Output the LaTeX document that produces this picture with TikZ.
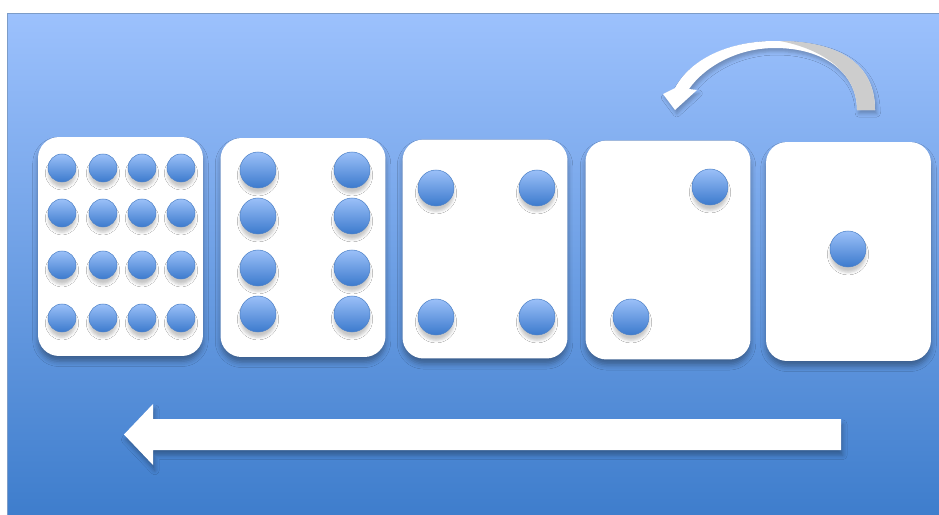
\documentclass[tikz,border=0pt]{standalone}
\usetikzlibrary{shadows.blur}

\definecolor{bgtop}{HTML}{9CC1FD}
\definecolor{bgbot}{HTML}{3E7DCC}
\definecolor{pipTop}{HTML}{9BC0F8}
\definecolor{pipBot}{HTML}{3C7ACD}
\definecolor{pipLine}{HTML}{4E82C8}
\definecolor{frameLine}{HTML}{7C9CC8}
\definecolor{arcGray}{HTML}{CDCDCD}

\tikzset{
  card/.style={fill=white, rounded corners=0.42cm, minimum width=3.3cm, minimum height=4.38cm,
               blur shadow={shadow xshift=0pt, shadow yshift=-3pt, shadow blur radius=3pt, shadow opacity=35}},
  pip/.style={circle, draw=pipLine, line width=0.3pt, top color=pipTop, bottom color=pipBot,
              inner sep=0pt, minimum size=0.72cm,
              blur shadow={shadow xshift=0pt, shadow yshift=-3pt, shadow blur radius=1.5pt, shadow opacity=22}},
  smallpip/.style={pip, minimum size=0.56cm},
}

\begin{document}
\begin{tikzpicture}[x=0.02cm, y=-0.02cm]
    % canvas, in pixels of the sketch
    \useasboundingbox (0,0) rectangle (939,514);
    \fill[white] (0,0) rectangle (939,514);
    \draw[frameLine, line width=0.5pt, top color=bgtop, bottom color=bgbot] (7,13) rectangle (942,517);

    % the five cards
    \node[card] (c1) at (120.5,246.5) {};
    \node[card] (c2) at (303,247.5) {};
    \node[card] (c3) at (485,249) {};
    \node[card] (c4) at (668,250) {};
    \node[card] (c5) at (848.5,251.5) {};

    % 16 pips
    \foreach \x [count=\i] in {62,103,142,181}
      \foreach \y [count=\j] in {168,213,265,318}
        \node[smallpip] (p16-\i-\j) at (\x,\y) {};

    % 8 pips
    \foreach \x [count=\i] in {258,352}
      \foreach \y [count=\j] in {170,216,268,314}
        \node[pip] (p8-\i-\j) at (\x,\y) {};

    % 4 pips
    \foreach \x [count=\i] in {436,537}
      \foreach \y [count=\j] in {188,317}
        \node[pip] (p4-\i-\j) at (\x,\y) {};

    % 2 pips, 1 pip
    \node[pip] (p2-a) at (710,187) {};
    \node[pip] (p2-b) at (631,317) {};
    \node[pip] (p1) at (848,249) {};

    % curved arrow above the last cards
    \fill[white, blur shadow={shadow xshift=1pt, shadow yshift=-2pt, shadow blur radius=2pt, shadow opacity=25}]
      (875,110) .. controls (875,58) and (830,41) .. (775,41)
      .. controls (727,41) and (690,60) .. (675,88)
      -- (663,94) -- (675,110) -- (697,90) -- (689,89)
      .. controls (705,66) and (738,48) .. (775,48)
      .. controls (823,48) and (857,72) .. (857,110) -- cycle;
    \fill[arcGray]
      (875,110) .. controls (875,58) and (830,41) .. (780,41)
      .. controls (822,49) and (857,72) .. (857,110) -- cycle;

    % long arrow under the cards
    \fill[white, blur shadow={shadow xshift=1pt, shadow yshift=-3pt, shadow blur radius=2.5pt, shadow opacity=30}]
      (841,419) -- (153,419) -- (153,404) -- (124,434.5) -- (153,465) -- (153,450) -- (841,450) -- cycle;
\end{tikzpicture}
\end{document}
